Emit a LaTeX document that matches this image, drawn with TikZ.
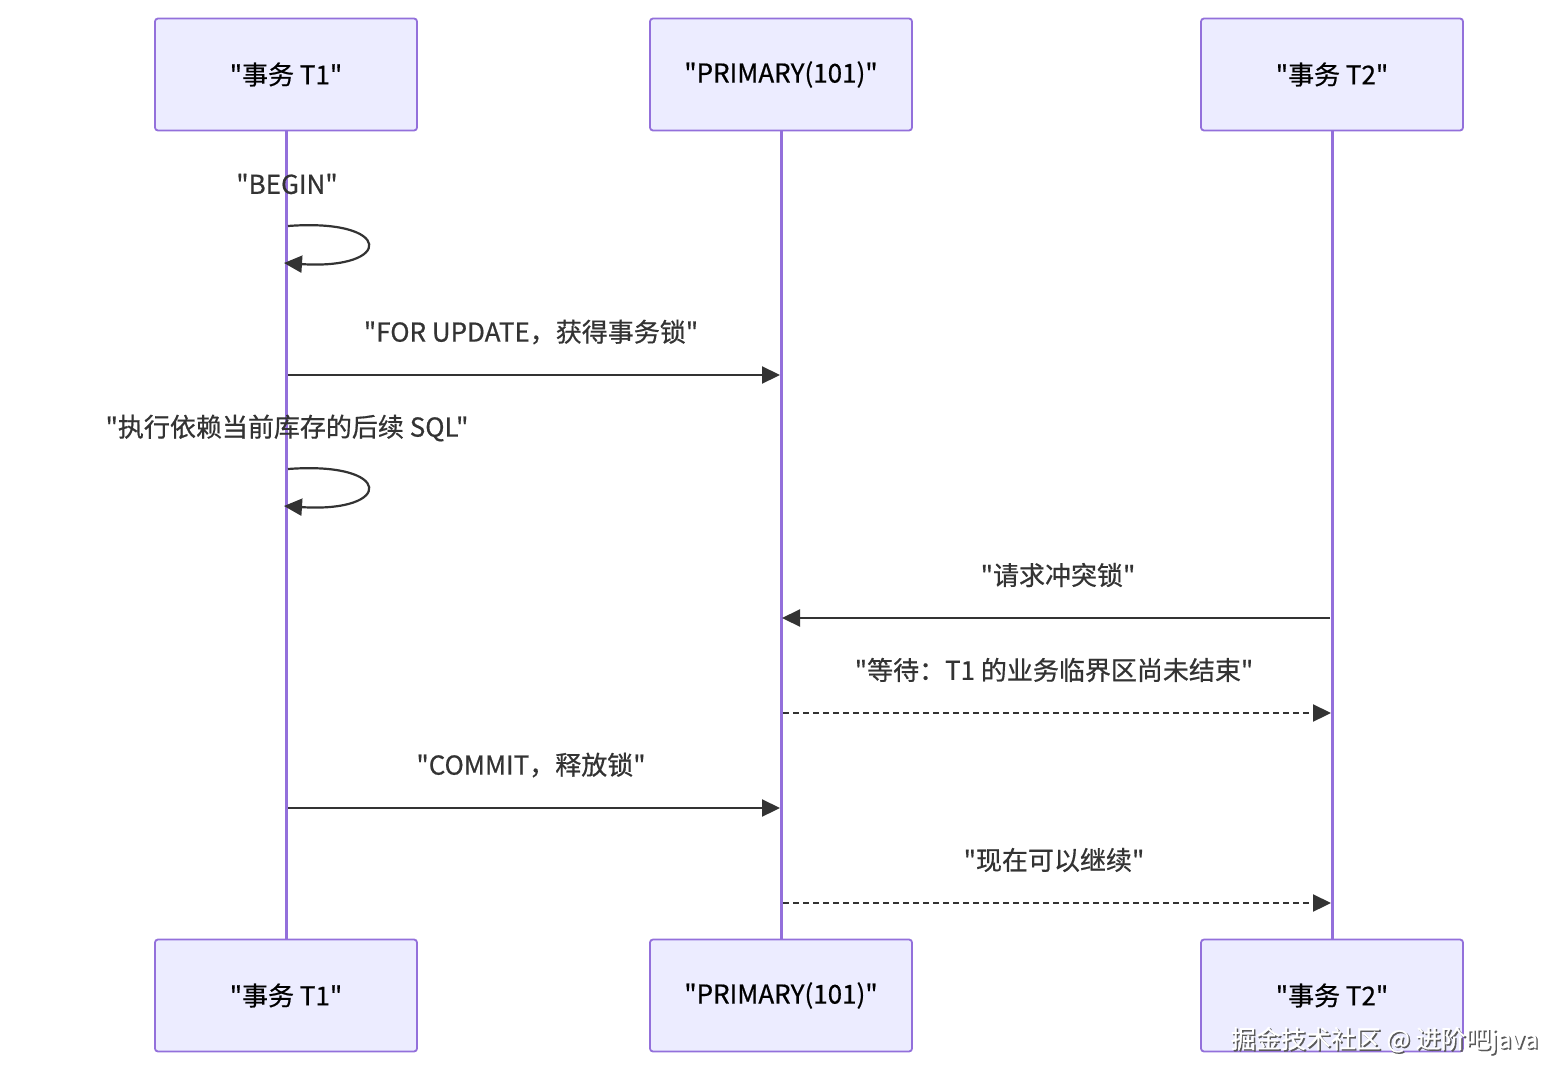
\documentclass[tikz,border=0pt]{standalone}
\usepackage{fontspec}
\setmainfont{Noto Sans CJK SC}[Ligatures=TeXOff,FakeBold=0.6]
\usetikzlibrary{arrows.meta}
\definecolor{boxfill}{HTML}{ECECFF}
\definecolor{boxline}{HTML}{9370DB}
\definecolor{txt}{HTML}{333333}
\begin{document}
\begin{tikzpicture}[x=1pt,y=-1pt,
  actor/.style={draw=boxline,fill=boxfill,line width=1.8pt,rounded corners=3pt,
    minimum width=262pt,minimum height=112pt,inner sep=0pt,font=\fontsize{26}{30}\selectfont,text=black},
  life/.style={draw=boxline,line width=3pt},
  msg/.style={draw=txt,line width=2.2pt,-{Triangle[length=18pt,width=17pt]}},
  dmsg/.style={msg,dash pattern=on 6pt off 4pt},
  lbl/.style={font=\fontsize{26}{30}\selectfont,text=txt,inner sep=0pt,anchor=center}]
\useasboundingbox (0,0) rectangle (1568,1084);
\fill[white] (0,0) rectangle (1568,1084);
% actors
\node[actor] (t1top) at (286,74.5) {"事务 T1"};
\node[actor] (prtop) at (781,74.5) {"PRIMARY(101)"};
\node[actor] (t2top) at (1332,74.5) {"事务 T2"};
\node[actor] (t1bot) at (286,995.5) {"事务 T1"};
\node[actor] (prbot) at (781,995.5) {"PRIMARY(101)"};
\node[actor] (t2bot) at (1332,995.5) {"事务 T2"};
% lifelines
\draw[life] (t1top.south) -- (t1bot.north);
\draw[life] (prtop.south) -- (prbot.north);
\draw[life] (t2top.south) -- (t2bot.north);
% self loop 1
\node[lbl] (lbegin) at (287,184) {"BEGIN"};
\coordinate (s1a) at (288,226);
\coordinate (s1b) at (284,263);
\draw[msg] (s1a) .. controls (394,218) and (394,270) .. (s1b);
% for update
\node[lbl] (lfor) at (531,332) {"FOR UPDATE，获得事务锁"};
\coordinate (m1a) at (288,375);
\coordinate (m1b) at (780,375);
\draw[msg] (m1a) -- (m1b);
% self loop 2
\node[lbl] (lexec) at (287,428) {"执行依赖当前库存的后续 SQL"};
\coordinate (s2a) at (288,469);
\coordinate (s2b) at (284,506);
\draw[msg] (s2a) .. controls (394,461) and (394,513) .. (s2b);
% request conflict lock
\node[lbl] (lreq) at (1058,575) {"请求冲突锁"};
\coordinate (m2a) at (1330,618);
\coordinate (m2b) at (782,618);
\draw[msg] (m2a) -- (m2b);
% wait
\node[lbl] (lwait) at (1054,670) {"等待：T1 的业务临界区尚未结束"};
\coordinate (m3a) at (783,713);
\coordinate (m3b) at (1331,713);
\draw[dmsg] (m3a) -- (m3b);
% commit
\node[lbl] (lcommit) at (531,765) {"COMMIT，释放锁"};
\coordinate (m4a) at (288,808);
\coordinate (m4b) at (780,808);
\draw[msg] (m4a) -- (m4b);
% continue
\node[lbl] (lcont) at (1054,860) {"现在可以继续"};
\coordinate (m5a) at (783,903);
\coordinate (m5b) at (1331,903);
\draw[dmsg] (m5a) -- (m5b);
% watermark
\node[font=\fontsize{25}{28}\selectfont,text=black!65,inner sep=0pt,anchor=center] (wms) at (1386,1042) {掘金技术社区 @ 进阶吧java};
\node[font=\fontsize{25}{28}\selectfont,text=white,inner sep=0pt,anchor=center] (wm) at (1384.5,1040.5) {掘金技术社区 @ 进阶吧java};
\end{tikzpicture}
\end{document}
